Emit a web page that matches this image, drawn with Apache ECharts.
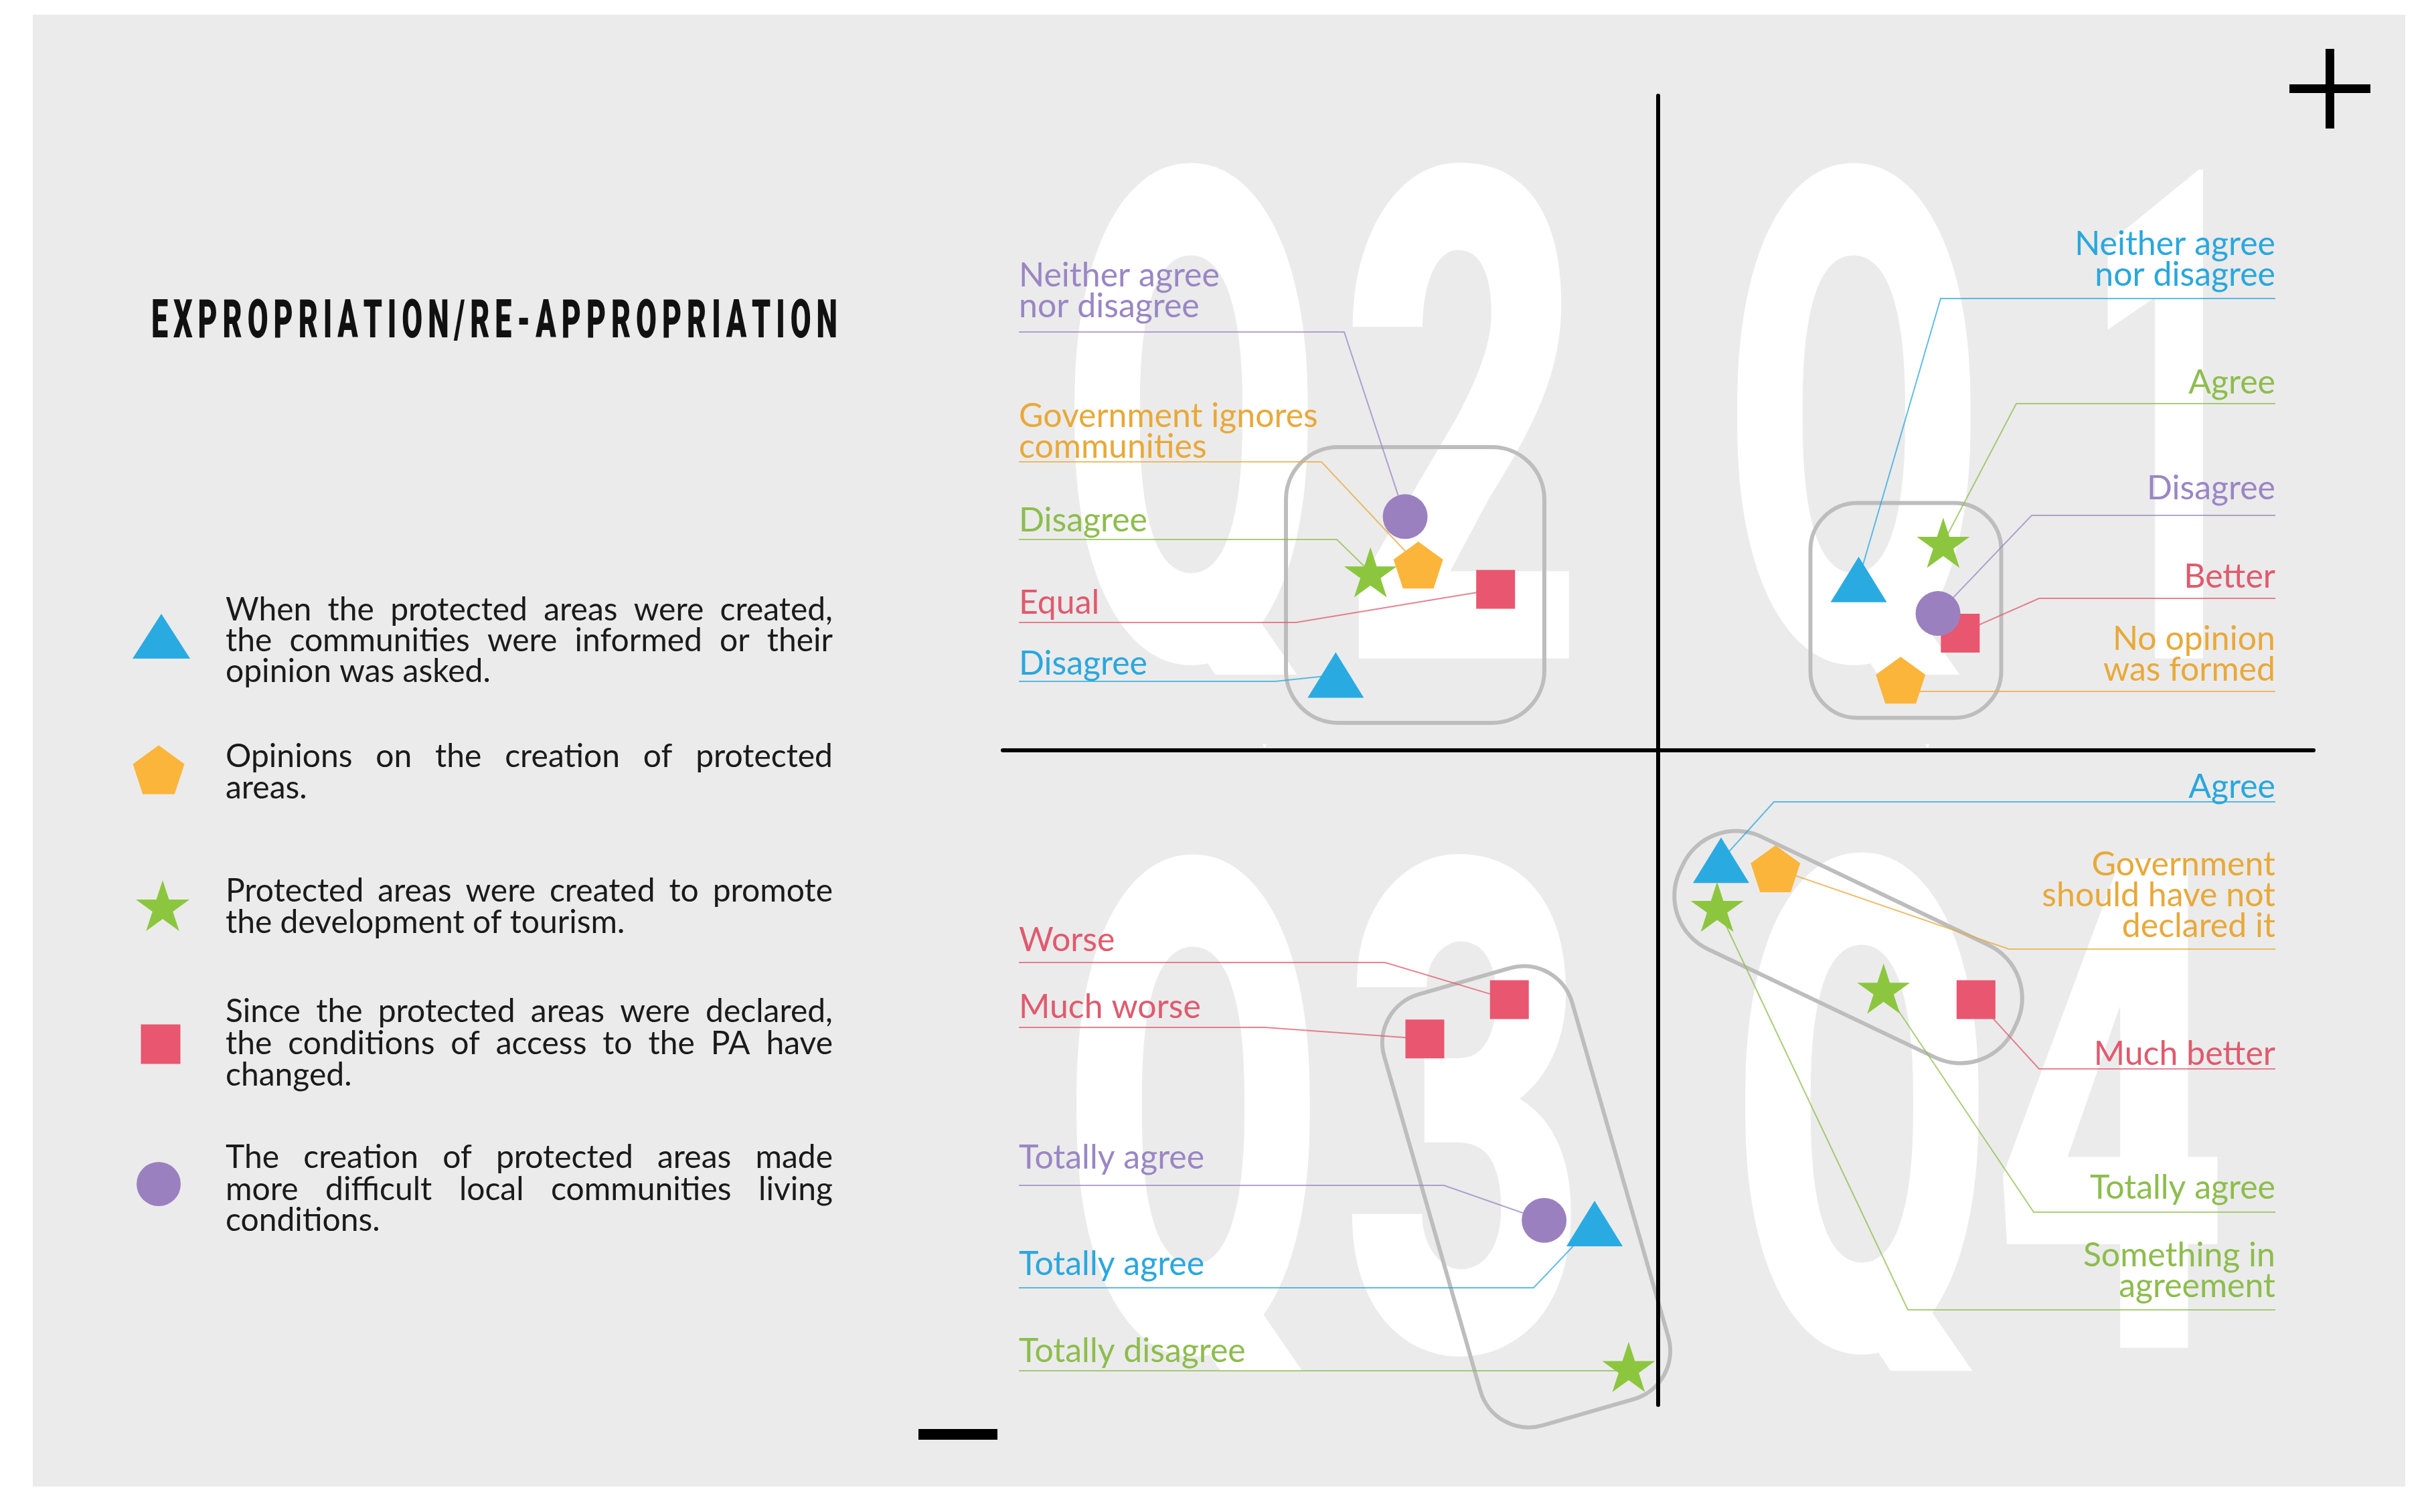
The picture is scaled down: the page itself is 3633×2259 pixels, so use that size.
<!DOCTYPE html>
<html>
<head>
<meta charset="utf-8">
<title>Expropriation / Re-appropriation</title>
<script src="https://cdn.jsdelivr.net/npm/echarts@6/dist/echarts.min.js"></script>
<style>
  html, body { margin: 0; padding: 0; background: #fff; }
  #chart { width: 3633px; height: 2259px; }
</style>
</head>
<body>
<div id="chart"></div>
<script>
// answers per question, placed on a -100..100 grid (both axes cross at 0)
const triNames = ['Neither agree\nnor disagree', 'Disagree', 'Totally agree', 'Agree'];
const triX = [30.6, -49.2, -9.7, 9.6];
const triY = [26.1, 11.5, -72.3, -16.8];

const pentNames = ['No opinion\nwas formed', 'Government ignores\ncommunities', 'Government\nshould have not\ndeclared it'];
const pentX = [37.0, -36.6, 17.9];
const pentY = [10.7, 28.3, -18.1];

const starNames = ['Agree', 'Disagree', 'Totally disagree', 'Totally agree', 'Something in\nagreement'];
const starX = [43.5, -43.9, -4.5, 34.4, 9.0];
const starY = [31.7, 27.2, -94.2, -36.4, -23.9];

const squareNames = ['Better', 'Equal', 'Worse', 'Much worse', 'Much better'];
const squareX = [46.1, -24.8, -22.7, -35.6, 48.5];
const squareY = [17.9, 24.6, -38.1, -44.1, -38.1];

const circleNames = ['Disagree', 'Neither agree\nnor disagree', 'Totally agree'];
const circleX = [42.7, -38.6, -17.4];
const circleY = [20.9, 35.7, -71.8];

const quadrants = ['Q1', 'Q2', 'Q3', 'Q4'];
const titleText = 'EXPROPRIATION/RE-APPROPRIATION';
const legendLines = [
  ['When the protected areas were created,', 'the communities were informed or their', 'opinion was asked.'],
  ['Opinions on the creation of protected', 'areas.'],
  ['Protected areas were created to promote', 'the development of tourism.'],
  ['Since the protected areas were declared,', 'the conditions of access to the PA have', 'changed.'],
  ['The creation of protected areas made', 'more difficult local communities living', 'conditions.']
];

const colors = { triangle: '#29abe2', pentagon: '#fbb53b', star: '#8cc63f', square: '#e9566f', circle: '#9b80c0' };
const textColors = { triangle: '#2aa7dd', pentagon: '#e8a93a', star: '#8dbd4d', square: '#e05a6e', circle: '#9a86c4' };

// shape helpers
function starPts(n, rIn) {
  const pts = [];
  for (let k = 0; k < n * 2; k++) {
    const r = k % 2 ? rIn : 1;
    const a = -Math.PI / 2 + k * Math.PI / n;
    pts.push([r * Math.cos(a), r * Math.sin(a)]);
  }
  return pts;
}
function polyPts(n) {
  const pts = [];
  for (let k = 0; k < n; k++) {
    const a = -Math.PI / 2 + k * 2 * Math.PI / n;
    pts.push([Math.cos(a), Math.sin(a)]);
  }
  return pts;
}
function fitPoints(pts, cx, cy, w, h) {
  const xs = pts.map(p => p[0]), ys = pts.map(p => p[1]);
  const x0 = Math.min(...xs), x1 = Math.max(...xs), y0 = Math.min(...ys), y1 = Math.max(...ys);
  return pts.map(p => [cx - w / 2 + (p[0] - x0) / (x1 - x0) * w, cy - h / 2 + (p[1] - y0) / (y1 - y0) * h]);
}
function toPath(pts) {
  return 'path://M' + pts.map(p => p[0].toFixed(2) + ',' + p[1].toFixed(2)).join('L') + 'Z';
}
const pentUnit = polyPts(5);
const starUnit = starPts(5, 0.382);

const seriesDefs = [
  { key: 'triangle', names: triNames, xs: triX, ys: triY, symbol: 'triangle', size: [84, 68] },
  { key: 'star', names: starNames, xs: starX, ys: starY, symbol: toPath(fitPoints(starUnit, 50, 50, 100, 95)), size: [79, 75] },
  { key: 'pentagon', names: pentNames, xs: pentX, ys: pentY, symbol: toPath(fitPoints(pentUnit, 50, 50, 100, 95)), size: [74, 70] },
  { key: 'square', names: squareNames, xs: squareX, ys: squareY, symbol: 'rect', size: 58 },
  { key: 'circle', names: circleNames, xs: circleX, ys: circleY, symbol: 'circle', size: 67 }
];

const chart = echarts.init(document.getElementById('chart'));

const hiddenAxis = {
  type: 'value', min: -100, max: 100,
  axisLine: { onZero: true, lineStyle: { color: '#000', width: 6 } },
  axisTick: { show: false }, axisLabel: { show: false }, splitLine: { show: false }
};

chart.setOption({
  backgroundColor: '#ffffff',
  animation: false,
  grid: { left: 1498, right: 177, top: 143, bottom: 160 },
  xAxis: hiddenAxis,
  yAxis: hiddenAxis,
  series: seriesDefs.map(d => ({
    type: 'scatter',
    name: d.key,
    symbol: d.symbol,
    symbolSize: d.size,
    silent: true,
    z: 5,
    itemStyle: { color: colors[d.key], opacity: 1 },
    data: d.xs.map((x, i) => ({ name: d.names[i], value: [x, d.ys[i]] }))
  }))
});

// ---- annotations ----
const ctx = document.createElement('canvas').getContext('2d');
function measure(font, s) { ctx.font = font; return ctx.measureText(s); }

const panelFill = '#ebebeb';
const g = [];
g.push({ type: 'rect', z: -10, shape: { x: 49, y: 22, width: 3544, height: 2199 }, style: { fill: panelFill } });

// big quadrant watermarks (Q body sized like an O, long tail trimmed below)
const qFont = '900 1027px Roboto';
const qPos = { Q1: [[2768, 3222], 727], Q2: [[1778, 2180], 727], Q3: [[1781, 2183], 1760], Q4: [[2780, 3152], 1757] };
const qWidth = [350, 336];
quadrants.forEach(q => {
  q.split('').forEach((ch, k) => {
    const m = measure(qFont, ch === 'Q' ? 'O' : ch);
    const ink = m.actualBoundingBoxRight + m.actualBoundingBoxLeft;
    const mid = (m.actualBoundingBoxRight - m.actualBoundingBoxLeft) / 2;
    const s = (ch === '1' ? 150 : qWidth[k]) / ink;
    g.push({
      type: 'text', z: -9, x: qPos[q][0][k] - mid * s, y: qPos[q][1], scaleX: s,
      style: { text: ch, fill: '#ffffff', font: qFont, align: 'left', verticalAlign: 'middle' }
    });
  });
});
[[1585, 1008, 440, 104], [2580, 1008, 440, 104], [1585, 2048, 440, 168], [2580, 2048, 440, 168]].forEach(c => {
  g.push({ type: 'rect', z: -8.5, shape: { x: c[0], y: c[1], width: c[2], height: c[3] }, style: { fill: panelFill } });
});

// grouping boxes
const boxes = [
  [2114, 874, 386, 412, 78, 0],
  [2847, 912, 285, 321, 70, 0],
  [2280, 1788, 292, 670, 75, 0.28],
  [2761, 1415, 552, 186, 88, -0.445]
];
boxes.forEach(b => {
  g.push({
    type: 'rect', z: -8, x: b[0], y: b[1], rotation: b[5],
    shape: { x: -b[2] / 2, y: -b[3] / 2, width: b[2], height: b[3], r: b[4] },
    style: { fill: 'none', stroke: '#bdbdbd', lineWidth: 6 }
  });
});

// plus / minus
g.push({ type: 'rect', z: 1, shape: { x: 3420, y: 126, width: 121, height: 13 }, style: { fill: '#000' } });
g.push({ type: 'rect', z: 1, shape: { x: 3474, y: 73, width: 13, height: 119 }, style: { fill: '#000' } });
g.push({ type: 'rect', z: 1, shape: { x: 1372, y: 2135, width: 118, height: 16 }, style: { fill: '#000' } });

// title, letter-spaced condensed caps
const tFont = '900 80px Roboto';
const tScale = 0.56;
const tChars = titleText.split('');
const tAdv = tChars.map(c => measure(tFont, c).width);
const tTrack = (1025 - tScale * tAdv.reduce((a, b) => a + b, 0)) / (tChars.length - 1);
let tx = 226;
tChars.forEach((c, k) => {
  g.push({ type: 'text', z: 1, x: tx, y: 484, scaleX: tScale,
    style: { text: c, fill: '#111', font: tFont, align: 'left', verticalAlign: 'middle' } });
  tx += tAdv[k] * tScale + tTrack;
});

// legend keys
const legendKeys = ['triangle', 'pentagon', 'star', 'square', 'circle'];
const legendSym = [[241, 951], [237, 1150], [243, 1353], [240, 1560], [237, 1769]];
const legendY = [[912, 958, 1004], [1131, 1178], [1332, 1379], [1512, 1560, 1607], [1730, 1778, 1824]];
legendKeys.forEach((k, i) => {
  const [cx, cy] = legendSym[i];
  const fill = colors[k];
  if (k === 'triangle') g.push({ type: 'polygon', z: 1, shape: { points: [[cx, cy - 34], [cx + 43, cy + 33], [cx - 43, cy + 33]] }, style: { fill } });
  if (k === 'pentagon') g.push({ type: 'polygon', z: 1, shape: { points: fitPoints(pentUnit, cx, cy, 77, 73) }, style: { fill } });
  if (k === 'star') g.push({ type: 'polygon', z: 1, shape: { points: fitPoints(starUnit, cx, cy, 80, 76) }, style: { fill } });
  if (k === 'square') g.push({ type: 'rect', z: 1, shape: { x: cx - 29.5, y: cy - 29.5, width: 59, height: 59 }, style: { fill } });
  if (k === 'circle') g.push({ type: 'circle', z: 1, shape: { cx, cy, r: 33 }, style: { fill } });
});

// justified legend text
const lFont = '48px Lato';
const lx0 = 337, lx1 = 1244;
legendLines.forEach((lines, i) => {
  lines.forEach((line, j) => {
    const y = legendY[i][j];
    const last = j === lines.length - 1;
    if (last) {
      g.push({ type: 'text', z: 1, x: lx0, y, style: { text: line, fill: '#1a1a1a', font: lFont, align: 'left', verticalAlign: 'middle' } });
      return;
    }
    const words = line.split(' ');
    const ws = words.map(w => measure(lFont, w).width);
    const gap = (lx1 - lx0 - ws.reduce((a, b) => a + b, 0)) / (words.length - 1);
    let x = lx0;
    words.forEach((w, k) => {
      g.push({ type: 'text', z: 1, x, y, style: { text: w, fill: '#1a1a1a', font: lFont, align: 'left', verticalAlign: 'middle' } });
      x += ws[k] + gap;
    });
  });
});

// callouts: series key, data index, text x, first line y, underline y, elbow x
const callouts = [
  ['circle', 1, 1522, 412, 496, 2008],
  ['pentagon', 1, 1522, 622, 690, 1974],
  ['star', 1, 1522, 778, 806, 1997],
  ['square', 1, 1522, 901, 930, 1936],
  ['triangle', 1, 1522, 992, 1018, 1905],
  ['triangle', 0, 3399, 365, 446, 2899],
  ['star', 0, 3399, 572, 603, 3012],
  ['circle', 0, 3399, 730, 770, 3035],
  ['square', 0, 3399, 862, 894, 3046],
  ['pentagon', 0, 3399, 955, 1033, null],
  ['square', 2, 1522, 1405, 1438, 2069],
  ['square', 3, 1522, 1505, 1535, 1890],
  ['circle', 2, 1522, 1730, 1771, 2157],
  ['triangle', 2, 1522, 1889, 1924, 2291],
  ['star', 2, 1522, 2019, 2048, null],
  ['triangle', 3, 3399, 1176, 1198, 2650],
  ['pentagon', 2, 3399, 1292, 1418, 3001],
  ['square', 4, 3399, 1575, 1597, 3046],
  ['star', 3, 3399, 1775, 1811, 3038],
  ['star', 4, 3399, 1876, 1957, 2850]
];
const cFont = '50px Lato';
callouts.forEach(([key, idx, cx, cy, uy, ex]) => {
  const d = seriesDefs.find(s => s.key === key);
  const p = chart.convertToPixel({ gridIndex: 0 }, [d.xs[idx], d.ys[idx]]);
  const pts = ex === null ? [[cx, uy], [p[0], uy]] : [[cx, uy], [ex, uy], p];
  g.push({ type: 'polyline', z: 1, shape: { points: pts }, style: { stroke: textColors[key], lineWidth: 2, opacity: 0.75, fill: 'none' } });
  d.names[idx].split('\n').forEach((line, j) => {
    g.push({ type: 'text', z: 1, x: cx, y: cy + j * 46,
      style: { text: line, fill: textColors[key], font: cFont, align: cx < 2477 ? 'left' : 'right', verticalAlign: 'middle' } });
  });
});

chart.setOption({ graphic: { elements: g } });
</script>
</body>
</html>
